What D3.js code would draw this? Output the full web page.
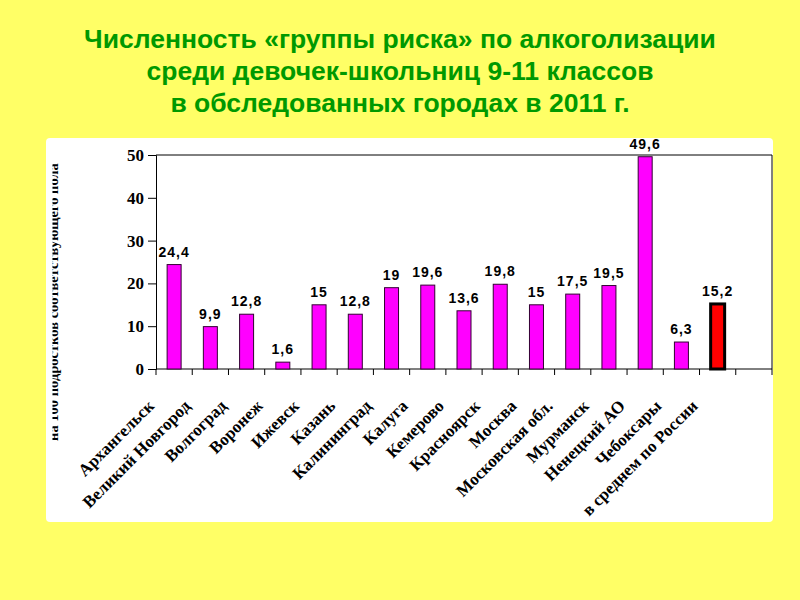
<!DOCTYPE html>
<html><head><meta charset="utf-8">
<script src="https://cdn.jsdelivr.net/npm/d3@7"></script>
<style>
html,body{margin:0;padding:0;background:#FFFF66;}
svg{display:block;}
</style></head>
<body>
<svg id="c" width="800" height="600"></svg>
<script>
const titleLines = ["Численность «группы риска» по алкоголизации","среди девочек-школьниц 9-11 классов","в обследованных городах в 2011 г."];
const categories = ["Архангельск","Великий Новгород","Волгоград","Воронеж","Ижевск","Казань","Калининград","Калуга","Кемерово","Красноярск","Москва","Московская обл.","Мурманск","Ненецкий АО","Чебоксары","в среднем по России"];
const values = [24.4, 9.9, 12.8, 1.6, 15, 12.8, 19, 19.6, 13.6, 19.8, 15, 17.5, 19.5, 49.6, 6.3, 15.2];
const valueLabels = ["24,4","9,9","12,8","1,6","15","12,8","19","19,6","13,6","19,8","15","17,5","19,5","49,6","6,3","15,2"];
const yTicks = [0,10,20,30,40,50];
const yLabel = "на 100 подростков соответствующего пола";
const highlight = "в среднем по России";

(function(){
const svg = d3.select("#c");
// title
svg.append("g").selectAll("text").data(titleLines).join("text")
  .attr("x", 400).attr("y", (d,i)=>48+i*32)
  .attr("text-anchor","middle")
  .attr("font-family","'Liberation Sans Narrow','Arial Narrow','Liberation Sans',Arial,sans-serif")
  .attr("font-weight","bold").attr("font-size",26.5)
  .attr("fill","#009900").text(d=>d);

// white panel
svg.append("rect").attr("x",46).attr("y",138).attr("width",727).attr("height",384)
  .attr("rx",4).attr("fill","#FFFFFF");

const pl=156, pr=772, pt=155, pb=369;
const slots = categories.concat([""]);
const x = d3.scaleBand().domain(slots).range([pl,pr]).padding(0);
const y = d3.scaleLinear().domain([0,50]).range([pb,pt]);
const barW = 14;

// frame (top and right)
svg.append("path").attr("d",`M${pl},${pt}H${pr}V${pb}`).attr("fill","none").attr("stroke","#000").attr("stroke-width",1);

// y axis
const ya = svg.append("g").attr("transform",`translate(${pl},0)`)
  .call(d3.axisLeft(y).tickValues(yTicks).tickSize(8).tickPadding(4).tickFormat(d3.format("d")));
ya.selectAll("text").attr("font-family","'Liberation Serif','Times New Roman',serif").attr("font-weight","bold").attr("font-size",17).attr("fill","#000");
ya.selectAll("line,path").attr("stroke","#000");

// x axis with ticks at slot boundaries
const xa = svg.append("g").attr("transform",`translate(0,${pb})`);
xa.append("line").attr("x1",pl).attr("x2",pr).attr("stroke","#000");
xa.selectAll("line.t").data(slots.concat(["__end"])).join("line").attr("class","t")
  .attr("x1",(d,i)=> i<slots.length ? x(d) : pr)
  .attr("x2",(d,i)=> i<slots.length ? x(d) : pr)
  .attr("y1",0).attr("y2",6).attr("stroke","#000");

// bars
svg.append("g").selectAll("rect").data(categories).join("rect")
  .attr("x",d=>x(d)+x.bandwidth()/2-barW/2)
  .attr("y",(d,i)=>y(values[i]))
  .attr("width",barW)
  .attr("height",(d,i)=>pb-y(values[i]))
  .attr("fill",d=>d===highlight?"#FF0000":"#FF00FF")
  .attr("stroke",d=>d===highlight?"#000":"#330033")
  .attr("stroke-width",d=>d===highlight?3:1);

// value labels
svg.append("g").selectAll("text").data(categories).join("text")
  .attr("x",d=>x(d)+x.bandwidth()/2)
  .attr("y",(d,i)=>y(values[i])-8)
  .attr("text-anchor","middle")
  .attr("font-family","'Liberation Sans',Arial,sans-serif").attr("font-weight","bold").attr("font-size",14)
  .attr("letter-spacing","1").attr("fill","#000")
  .text((d,i)=>valueLabels[i]);

// category labels
svg.append("g").selectAll("text").data(categories).join("text")
  .attr("transform",d=>`translate(${x(d)+x.bandwidth()/2-19},${pb+38}) rotate(-45)`)
  .attr("text-anchor","end")
  .attr("font-family","'Liberation Serif','Times New Roman',serif").attr("font-weight","bold").attr("font-size",17)
  .attr("fill","#000").text(d=>d);

// y label (clipped by the chart edge, as in the reference)
svg.append("clipPath").attr("id","yc").append("rect").attr("x",52.5).attr("y",140).attr("width",30).attr("height",380);
svg.append("g").attr("clip-path","url(#yc)").append("text")
  .attr("transform","translate(58,302) rotate(-90)")
  .attr("text-anchor","middle")
  .attr("font-family","'Liberation Serif','Times New Roman',serif").attr("font-weight","bold").attr("font-size",14.5)
  .attr("fill","#000").text(yLabel);
})();
</script>
</body></html>
